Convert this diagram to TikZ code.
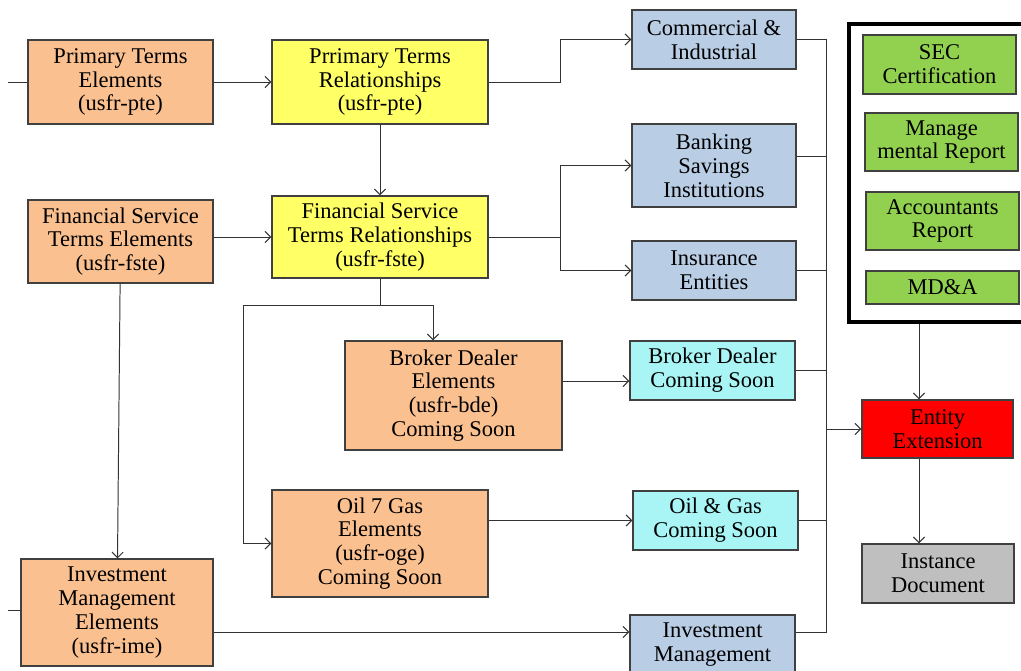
\documentclass[tikz,border=0pt]{standalone}
\usepackage{fontspec}
\setmainfont{Liberation Serif}
\usetikzlibrary{arrows.meta, positioning, shadows}

\definecolor{peach}{HTML}{FAC090}
\definecolor{lemon}{HTML}{FFFF66}
\definecolor{steel}{HTML}{B9CDE5}
\definecolor{aqua}{HTML}{A9F5F5}
\definecolor{leaf}{HTML}{92D050}
\definecolor{silver}{HTML}{BFBFBF}

\begin{document}
\begin{tikzpicture}[
        x=0.025cm, y=-0.025cm,
        >={Straight Barb[length=1.4mm, width=2.8mm]},
        box/.style={draw=black!75, line width=0.9pt, align=center, inner sep=1pt,
            font=\fontsize{16}{17}\selectfont,
            drop shadow={shadow xshift=0.8pt, shadow yshift=-0.8pt, fill=black!40, opacity=0.6}},
        elem/.style={box, fill=peach},
        rel/.style={box, fill=lemon, minimum width=5.4cm},
        sector/.style={box, fill=steel, minimum width=4.1cm},
        soon/.style={box, fill=aqua, minimum width=4.125cm, minimum height=1.475cm},
        report/.style={box, fill=leaf, minimum width=3.825cm},
        edge/.style={->, line width=0.7pt, draw=black!80},
        link/.style={line width=0.7pt, draw=black!80}
    ]
        \useasboundingbox (0,0) rectangle (1021,671);

        % taxonomy elements and relationships
        \node[elem, minimum width=4.625cm, minimum height=2.1cm] (pte) at (120.5,82) {Primary Terms\\Elements\\(usfr-pte)};
        \node[rel, minimum height=2.1cm] (ptr) at (380,82) {Prrimary Terms\\Relationships\\(usfr-pte)};
        \node[elem, minimum width=4.625cm, minimum height=2.075cm] (fste) at (120.5,241.5) {Financial Service\\Terms Elements\\(usfr-fste)};
        \node[rel, minimum height=2.05cm] (fstr) at (380,237) {Financial Service\\Terms Relationships\\(usfr-fste)};
        \node[elem, minimum width=5.425cm, minimum height=2.725cm] (bde) at (453.5,395.5) {Broker Dealer\\Elements\\(usfr-bde)\\Coming Soon};
        \node[elem, minimum width=5.4cm, minimum height=2.675cm] (oge) at (380,543.5) {Oil 7 Gas\\Elements\\(usfr-oge)\\Coming Soon};
        \node[elem, minimum width=4.8cm, minimum height=2.675cm] (ime) at (117,612.5) {Investment\\Management\\Elements\\(usfr-ime)};

        % industry entry points
        \node[sector, minimum height=1.475cm] (ci) at (714,39.5) {Commercial \&\\Industrial};
        \node[sector, minimum height=2.075cm] (bank) at (714,165.5) {Banking\\Savings\\Institutions};
        \node[sector, minimum height=1.475cm] (ins) at (714,270.5) {Insurance\\Entities};
        \node[soon] (bdcs) at (712.5,370.5) {Broker Dealer\\Coming Soon};
        \node[soon] (ogcs) at (715.5,520.5) {Oil \& Gas\\Coming Soon};
        \node[sector, minimum width=4.125cm, minimum height=1.5cm] (img) at (712.5,645) {Investment\\Management};

        % reports
        \node[draw=black, line width=2.2pt, minimum width=4.65cm, minimum height=7.45cm] (grp) at (942,173) {};
        \node[report, minimum height=1.475cm] (sec) at (939.5,64.5) {SEC\\Certification};
        \node[report, minimum height=1.45cm] (mgt) at (941.5,142) {Manage\\mental Report};
        \node[report, minimum height=1.45cm] (acc) at (942.5,221) {Accountants\\Report};
        \node[report, minimum height=0.825cm] (mda) at (942.5,287.5) {MD\&A};

        \node[box, fill=red, minimum width=3.775cm, minimum height=1.45cm] (ent) at (937.5,429) {Entity\\Extension};
        \node[box, fill=silver, minimum width=3.8cm, minimum height=1.475cm] (inst) at (938,573.5) {Instance\\Document};

        % helper points
        \coordinate (s1) at (8,82);
        \coordinate (s2) at (8,610);
        \coordinate (j1) at (560,0);
        \coordinate (j2) at (243,305);
        \coordinate (j3) at (433,305);
        \coordinate (j4) at (0,632);
        \coordinate (j5) at (0,381);
        \coordinate (j6) at (919,0);
        \coordinate (j7) at (0,156);
        \coordinate (bus) at (826,0);

        % connectors
        \draw[link] (s1) -- (pte);
        \draw[link] (s2) -- (ime.west |- s2);
        \draw[edge] (pte) -- (ptr);
        \draw[edge] (ptr.east) -- (ptr.east -| j1) |- (ci.west);
        \draw[edge] (ptr) -- (fstr);
        \draw[edge] (fste.east |- fstr.west) -- (fstr.west);
        \draw[edge] (fstr.east) -- (fstr.east -| j1) |- (bank.west);
        \draw[edge] (fstr.east) -- (fstr.east -| j1) |- (ins.west);
        \draw[edge] (fstr.south) |- (j2) |- (oge.west);
        \draw[edge] (fstr.south) |- (j3) -- (j3 |- bde.north);
        \draw[edge] (fste) -- (ime);
        \draw[edge] (bde.east |- j5) -- (bdcs.west |- j5);
        \draw[edge] (oge.east |- ogcs.west) -- (ogcs.west);
        \draw[edge] (ime.east |- j4) -- (img.west |- j4);

        \draw[link] (ci.east) -- (ci.east -| bus) -- (bus |- j4) -- (img.east |- j4);
        \draw[link] (bank.east |- j7) -- (bus |- j7);
        \draw[link] (ins.east) -- (ins.east -| bus);
        \draw[link] (bdcs.east) -- (bdcs.east -| bus);
        \draw[link] (ogcs.east) -- (ogcs.east -| bus);
        \draw[edge] (bus |- ent.west) -- (ent.west);
        \draw[edge] (grp.south -| j6) -- (j6 |- ent.north);
        \draw[edge] (j6 |- ent.south) -- (j6 |- inst.north);
    \end{tikzpicture}
\end{document}
